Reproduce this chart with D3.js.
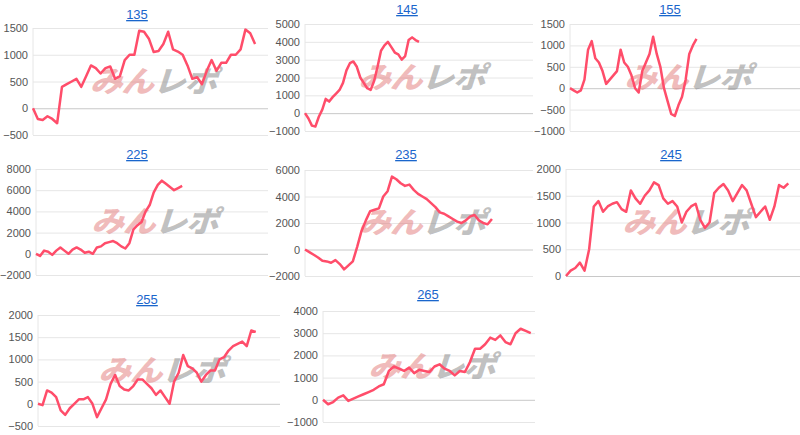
<!DOCTYPE html>
<html><head><meta charset="utf-8">
<script src="https://cdn.jsdelivr.net/npm/d3@7"></script>
<style>body{margin:0;background:#fff}svg{display:block}</style>
</head><body>
<svg id="c" width="800" height="435"></svg>
<script>
// chart names
var names = ["135", "145", "155", "225", "235", "245", "255", "265"];

// series values
var v135 = [0,-200,-220,-150,-200,-280,400,450,500,550,400,600,800,750,650,750,780,550,600,900,1000,1000,1450,1430,1300,1050,1070,1200,1430,1100,1060,1000,800,550,580,450,700,900,700,850,850,1000,1000,1100,1470,1400,1200];
var v145 = [0,-300,-700,-750,-200,200,800,650,900,1100,1300,1700,2400,2800,2900,2600,2000,1700,1400,1300,1800,2600,3500,3800,4000,3700,3400,3300,3000,3200,4100,4250,4100,4000];
var v155 = [0,-50,-100,-50,200,900,1100,700,600,400,100,200,300,400,900,600,500,300,0,-100,400,600,800,1200,800,500,0,-300,-600,-650,-400,-200,200,800,1000,1150];
var v225 = [0,-200,300,200,-100,300,600,300,0,400,600,400,100,200,0,600,700,1000,1100,1200,1000,700,500,1000,2300,2700,3000,4000,4600,5800,6500,6900,6600,6300,6000,6200,6400];
var v235 = [0,-200,-400,-600,-850,-900,-1000,-800,-1100,-1500,-1200,-900,200,1400,2200,2900,3000,3100,4000,4400,5500,5300,5000,4800,4900,4500,4200,4000,3800,3500,3200,2800,2700,2500,2300,2100,2000,2200,2500,2600,2200,2000,1900,2300];
var v245 = [0,100,150,250,100,500,1300,1400,1200,1300,1350,1380,1250,1200,1600,1450,1350,1500,1600,1750,1700,1450,1350,1400,1300,1000,1200,1300,1350,1050,900,1000,1550,1650,1720,1600,1400,1550,1700,1600,1350,1100,1200,1300,1050,1300,1700,1650,1730];
var v255 = [0,-30,300,250,150,-150,-250,-100,0,100,100,150,0,-300,-100,100,450,650,400,320,300,400,550,550,450,350,200,300,150,0,500,700,1100,850,800,700,500,650,750,750,1000,1050,1200,1300,1350,1400,1300,1650,1620];
var v265 = [0,-200,-100,100,200,-50,50,150,250,350,450,600,700,1300,1500,1400,1300,1450,1200,1350,1300,1250,1500,1600,1400,1300,1100,1300,1250,1700,2300,2300,2500,2800,2700,2900,2600,2500,3000,3200,3100,3000];
var series = [v135, v145, v155, v225, v235, v245, v255, v265];

// y tick labels per chart
var ticks = [
  [-500,0,500,1000,1500],
  [-1000,0,1000,2000,3000,4000,5000],
  [-1000,-500,0,500,1000,1500],
  [-2000,0,2000,4000,6000,8000],
  [-2000,0,2000,4000,6000],
  [0,500,1000,1500,2000],
  [-500,0,500,1000,1500,2000],
  [-1000,0,1000,2000,3000,4000]
];
// share of the x range the line covers
var spans = [0.945, 0.5, 0.55, 0.63, 0.82, 0.95, 0.9, 0.98];

// panel boxes: left, right, top, bottom, title x, title y
var boxes = [
  [33,268,28,135,137,15],
  [305,533,24,131,407,10],
  [570,800,24,131,670,10],
  [36,268,169,275,137,155],
  [305,533,170,276,406,155],
  [566,800,169,276,671,155],
  [38,280,315,426,147,300],
  [323,535,311,422,428,295]
];

var svg = d3.select("#c");

series.forEach(function (vals, i) {
  var b = boxes[i], t = ticks[i];
  var g = svg.append("g");
  var x = d3.scaleLinear().domain([0, (vals.length - 1) / spans[i]]).range([b[0], b[1]]);
  var y = d3.scaleLinear().domain([t[0], t[t.length - 1]]).range([b[3], b[2]]);

  g.append("text").attr("x", b[4]).attr("y", b[5] + 4).attr("text-anchor", "middle")
    .attr("font-family", "Arial, Liberation Sans").attr("font-size", 13)
    .attr("fill", "#1a66cc").attr("text-decoration", "underline").text(names[i]);

  var ax = g.append("g").attr("transform", "translate(" + b[0] + ",0)")
    .call(d3.axisLeft(y).tickValues(t).tickFormat(d3.format("d"))
      .tickSize(-(b[1] - b[0])).tickPadding(5));
  ax.select(".domain").remove();
  ax.selectAll("line").attr("stroke", function (d) { return d === 0 ? "#c8c8c8" : "#e6e6e6"; });
  ax.selectAll("text").attr("fill", "#555").attr("font-size", 11)
    .attr("font-family", "Arial, Liberation Sans");
  g.append("line").attr("x1", b[0]).attr("x2", b[0]).attr("y1", b[2]).attr("y2", b[3])
    .attr("stroke", "#e6e6e6");

  // watermark
  var cx = (b[0] + b[1]) / 2 + 5, cy = (b[2] + b[3]) / 2 + 2;
  var wm = g.append("text").attr("text-anchor", "middle")
    .attr("dominant-baseline", "middle")
    .attr("font-family", "Noto Sans CJK JP").attr("font-weight", 900)
    .attr("font-size", 31).attr("letter-spacing", -1)
    .attr("transform", "translate(" + cx + "," + cy + ") skewX(-18) scale(1.05,0.95)");
  wm.append("tspan").attr("fill", "rgba(225,120,120,0.5)").text("みん");
  wm.append("tspan").attr("fill", "rgba(140,140,140,0.55)").text("レポ");

  g.append("path").datum(vals)
    .attr("fill", "none").attr("stroke", "#ff4d6a").attr("stroke-width", 2.5)
    .attr("stroke-linejoin", "round")
    .attr("d", d3.line().x(function (d, j) { return x(j); }).y(function (d) { return y(d); }));
});
</script>
</body></html>
